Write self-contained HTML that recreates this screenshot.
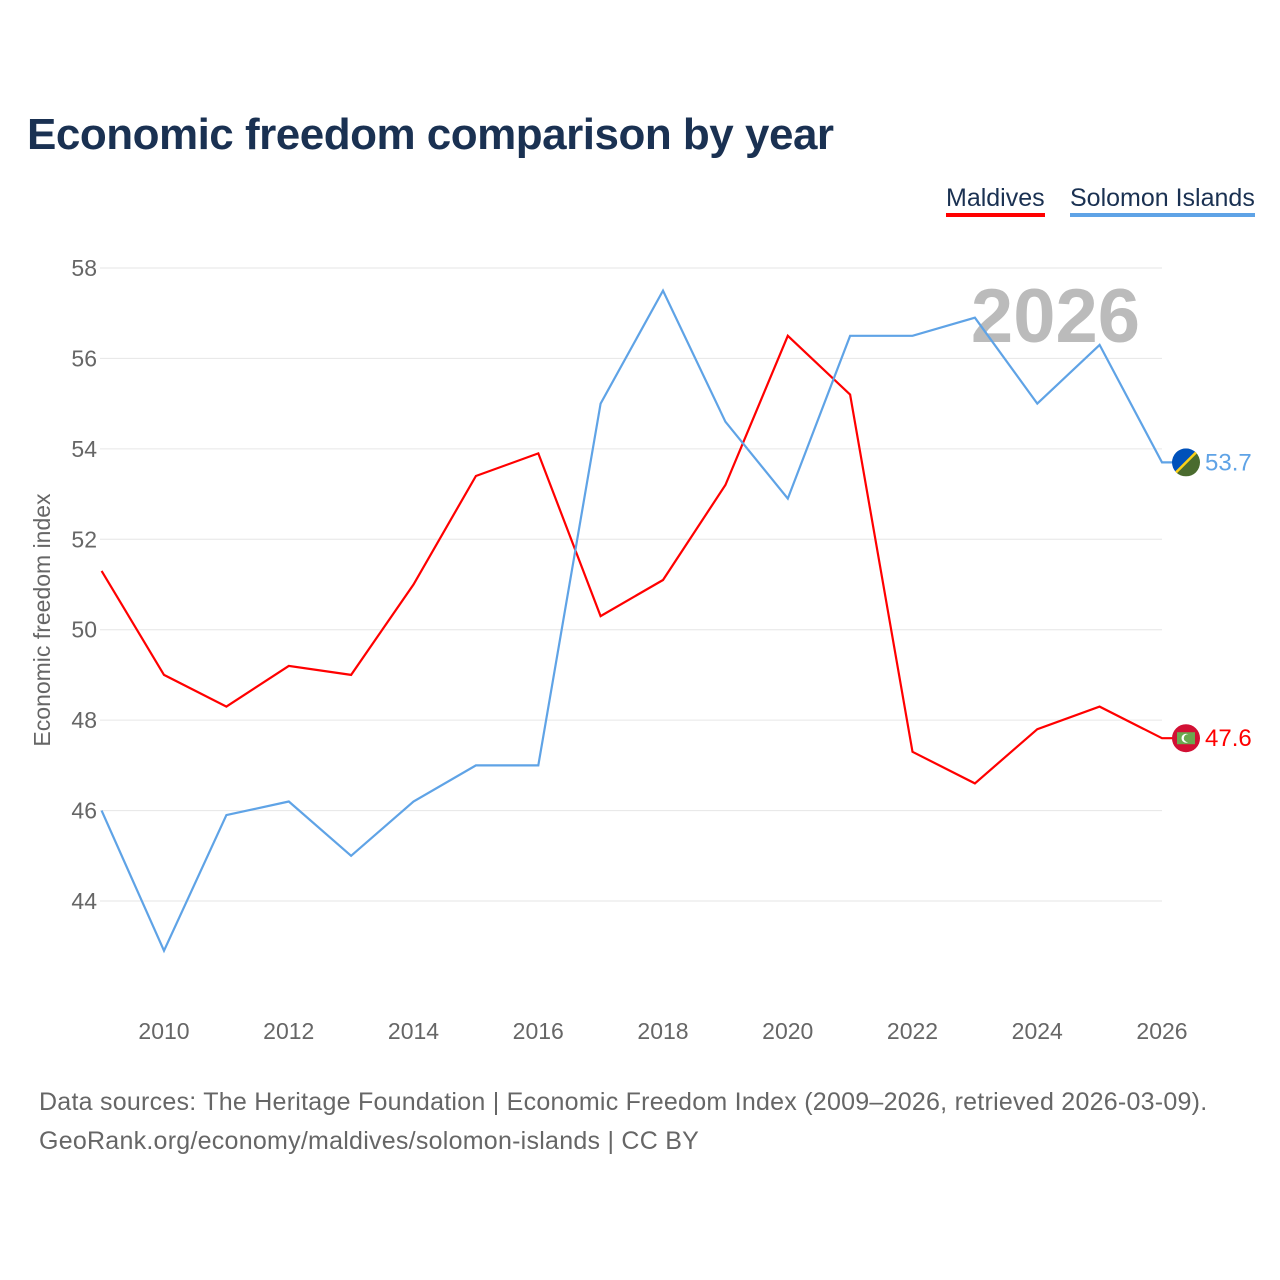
<!DOCTYPE html>
<html><head><meta charset="utf-8"><style>
body{margin:0;background:#fff;font-family:"Liberation Sans",sans-serif;}
#wrap{position:relative;width:1280px;height:1280px;overflow:hidden;}
.t{position:absolute;white-space:nowrap;}
</style></head><body>
<div id="wrap">
<div class="t" style="left:27px;top:110px;font-size:44px;font-weight:bold;color:#1a3152;letter-spacing:-0.5px;">Economic freedom comparison by year</div>
<div class="t" style="left:946px;top:184px;font-size:25px;color:#1a3152;border-bottom:4px solid #ff0000;padding-bottom:0px;">Maldives</div>
<div class="t" style="left:1070px;top:184px;font-size:25px;color:#1a3152;border-bottom:4px solid #5fa3e6;">Solomon Islands</div>
<svg id="chart" width="1280" height="1280" style="position:absolute;left:0;top:0;"></svg>
<div class="t" style="left:39px;top:1083px;font-size:25px;color:#666;line-height:39px;letter-spacing:0.25px;">Data sources: The Heritage Foundation | Economic Freedom Index (2009–2026, retrieved 2026-03-09).<br>GeoRank.org/economy/maldives/solomon-islands | CC BY</div>
</div>
<script>
const years=[2009,2010,2011,2012,2013,2014,2015,2016,2017,2018,2019,2020,2021,2022,2023,2024,2025,2026];
const maldives=[51.3,49.0,48.3,49.2,49.0,51.0,53.4,53.9,50.3,51.1,53.2,56.5,55.2,47.3,46.6,47.8,48.3,47.6];
const solomon=[46.0,42.9,45.9,46.2,45.0,46.2,47.0,47.0,55.0,57.5,54.6,52.9,56.5,56.5,56.9,55.0,56.3,53.7];
const yTicks=[44,46,48,50,52,54,56,58];
const xTicks=[2010,2012,2014,2016,2018,2020,2022,2024,2026];
const svg=document.getElementById('chart');const NS='http://www.w3.org/2000/svg';
const x=v=>164+(v-2010)*62.375;
const y=v=>268+(58-v)*45.214;
function mk(t,a){const e=document.createElementNS(NS,t);for(const k in a)e.setAttribute(k,a[k]);svg.appendChild(e);return e;}
yTicks.forEach(v=>{const l=mk('line',{x1:100,x2:1162,y1:y(v),y2:y(v),stroke:'#e6e6e6','stroke-width':1});


const t=mk('text',{x:97,y:y(v)+8,'text-anchor':'end','font-size':23,fill:'#666','font-family':'Liberation Sans'});t.textContent=v;

});
xTicks.forEach(v=>{const t=mk('text',{x:x(v),y:1039,'text-anchor':'middle','font-size':23,fill:'#666','font-family':'Liberation Sans'});t.textContent=v;

});
const yt=mk('text',{x:0,y:0,transform:'translate(50,620) rotate(-90)','text-anchor':'middle','font-size':23,fill:'#666','font-family':'Liberation Sans'});yt.textContent='Economic freedom index';


const yr=mk('text',{x:1140,y:342,'text-anchor':'end','font-size':76,'font-weight':'bold',fill:'#bbb','font-family':'Liberation Sans'});yr.textContent='2026';


function series(vals,col,name){
 const d=vals.map((v,i)=>(i?'L':'M')+x(years[i]).toFixed(1)+','+y(v).toFixed(1)).join(' ');
 const last=vals[vals.length-1];
 const p=mk('path',{d:d+' L1186,'+y(last).toFixed(1),fill:'none',stroke:col,'stroke-width':2.2});
 
 
 const t=mk('text',{x:1205,y:y(last)+8,'font-size':24,fill:col,'font-family':'Liberation Sans'});t.textContent=last.toFixed(1);
 
 
 return y(last);
}
const ym=series(maldives,'#ff0000','maldives');
const ys=series(solomon,'#5fa3e6','solomon-islands');
let f=mk('circle',{cx:1186,cy:ym,r:14,fill:'#d21034'});
mk('rect',{x:1177,y:ym-6,width:18,height:12,fill:'#6aa84f'});
mk('circle',{cx:1186,cy:ym,r:4.5,fill:'#fff'});mk('circle',{cx:1187.8,cy:ym,r:4,fill:'#6aa84f'});
const cp=mk('clipPath',{id:'sc'});const cc=document.createElementNS(NS,'circle');cc.setAttribute('cx',1186);cc.setAttribute('cy',ys);cc.setAttribute('r',14);cp.appendChild(cc);
const g=mk('g',{'clip-path':'url(#sc)'});
[['polygon',{points:`1172,${ys+14} 1172,${ys-14} 1200,${ys-14}`,fill:'#0051ba'}],['polygon',{points:`1172,${ys+14} 1200,${ys-14} 1200,${ys+14}`,fill:'#4a6b2e'}],['line',{x1:1172,y1:ys+14,x2:1200,y2:ys-14,stroke:'#fcd116','stroke-width':2.5}]].forEach(([t,a])=>{const e=document.createElementNS(NS,t);for(const k in a)e.setAttribute(k,a[k]);g.appendChild(e);});
</script>
</body></html>
